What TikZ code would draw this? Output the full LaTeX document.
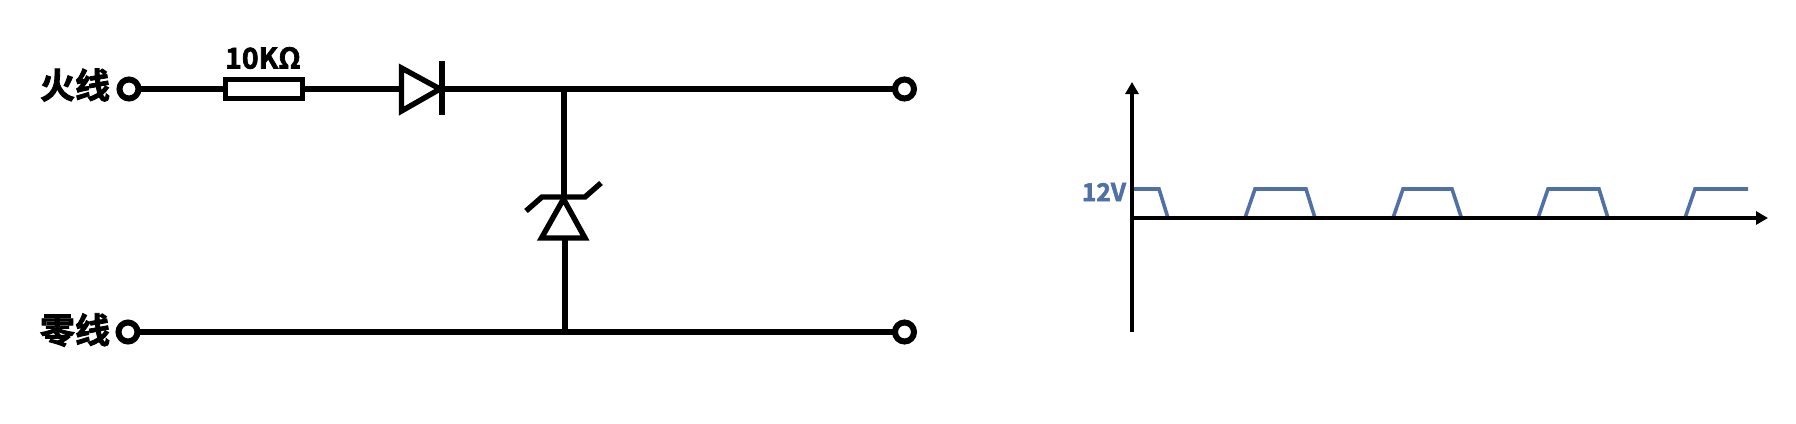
\documentclass[tikz,border=0pt]{standalone}
\usepackage{fontspec}
\setmainfont{Noto Sans CJK SC}
\newfontfamily\hv{Noto Sans CJK SC Bold}[FakeBold=2.4]
\usetikzlibrary{arrows.meta}
\definecolor{pulse}{HTML}{4F71A6}
\tikzset{
  x=1pt,y=-1pt,
  wire/.style={line width=5.4pt,black},
  term/.style={circle,draw=black,line width=6pt,fill=white,minimum size=19pt,inner sep=0pt,outer sep=0pt},
  lab/.style={font=\hv\fontsize{35}{35}\selectfont,inner sep=0pt},
  axis/.style={line width=3.4pt,black,-{Triangle[length=12pt,width=13pt]}},
  pulseline/.style={line width=3.6pt,pulse,line join=miter},
}
\begin{document}
\begin{tikzpicture}
\useasboundingbox[fill=white] (0,0) rectangle (1796,423);
% labels
\node[lab] (l1) at (75,85) {火线};
\node[lab] (l2) at (75,330) {零线};
\node[font=\hv\fontsize{28.5}{28.5}\selectfont,inner sep=0pt] (rl) at (263,58) {10KΩ};
\node[font=\hv\fontsize{24.5}{24.5}\selectfont,text=pulse,inner sep=0pt] (v12) at (1104,192) {12V};
% terminals
\node[term] (tl1) at (129,89) {};
\node[term] (tr1) at (904.5,89) {};
\node[term] (tl2) at (128,332) {};
\node[term] (tr2) at (904.5,332) {};
% resistor
\node[draw=black,line width=5.4pt,fill=white,minimum width=76.5pt,minimum height=19pt,inner sep=0pt,outer sep=2.7pt] (res) at (264,89) {};
% junctions and diode coordinates
\coordinate (da) at (402,89);
\coordinate (dk) at (442,89);
\coordinate (j1) at (564,89);
\coordinate (j2) at (565,332);
\coordinate (za) at (565,238);
\coordinate (zk) at (564,197);
% wires
\draw[wire] (tl1) -- (res);
\draw[wire] (res) -- (da);
\draw[wire] (dk) -- (tr1);
\draw[wire] (tl2) -- (tr2);
\draw[wire] (j1) -- (zk);
\draw[wire] (za) -- (j2);
% diode
\draw[wire,miter limit=10] (401.5,68) -- (440,89) -- (401.5,111) -- cycle;
\draw[line width=6pt] (442,61) -- (442,115);
% zener
\draw[wire] (563.5,199) -- (585,238) -- (541.5,238) -- cycle;
\draw[wire,line join=miter] (526,211) -- (542,197) -- (585,197) -- (601,183);
% chart
\coordinate (o) at (1132,218);
\coordinate (ybot) at (1132,332);
\coordinate (ytop) at (1132,82);
\coordinate (xend) at (1768,218);
\draw[pulseline] (1132,189) -- (1159,189) -- (1168,218);
\draw[pulseline] (1245,218) -- (1255,189) -- (1306,189) -- (1315,218);
\draw[pulseline] (1393,218) -- (1403,189) -- (1452,189) -- (1461.5,218);
\draw[pulseline] (1538,218) -- (1548,189) -- (1599,189) -- (1608,218);
\draw[pulseline] (1685,218) -- (1695,189) -- (1748,189);
\draw[axis] (ybot) -- (ytop);
\draw[axis] (o) -- (xend);
\end{tikzpicture}
\end{document}
